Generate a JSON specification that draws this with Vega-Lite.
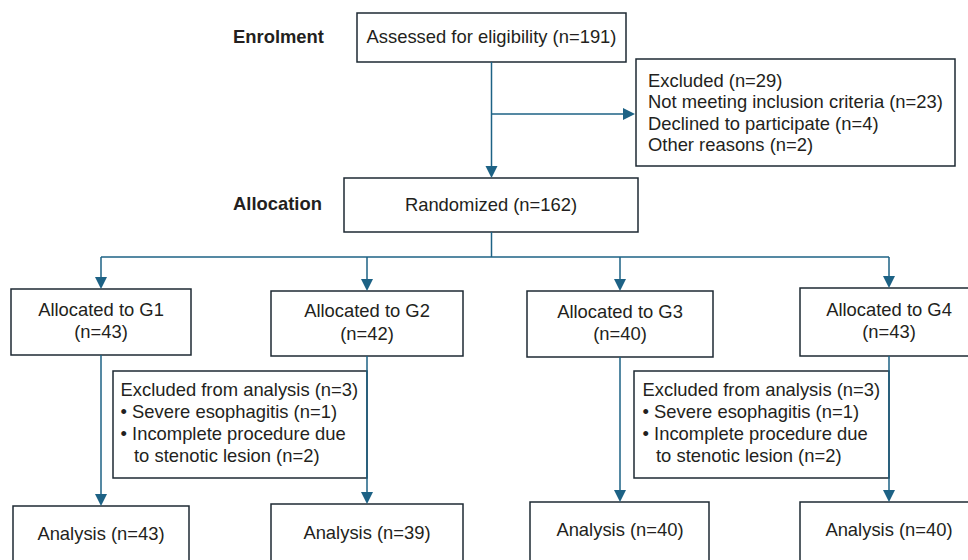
{
  "$schema": "https://vega.github.io/schema/vega-lite/v6.json",
  "width": 968,
  "height": 560,
  "padding": 0,
  "autosize": {"type": "fit", "contains": "padding"},
  "background": "white",
  "config": {"view": {"stroke": null}},
  "datasets": {
    "boxes": [
      {"id": "assessed", "x": 357, "x2": 626, "y": 13, "y2": 62},
      {"id": "excluded", "x": 636, "x2": 955, "y": 59, "y2": 166},
      {"id": "randomized", "x": 344, "x2": 638, "y": 178, "y2": 232},
      {"id": "G1", "x": 11, "x2": 191, "y": 289, "y2": 355},
      {"id": "G2", "x": 271, "x2": 463, "y": 291, "y2": 356},
      {"id": "G3", "x": 527, "x2": 713, "y": 291, "y2": 357},
      {"id": "G4", "x": 800, "x2": 990, "y": 288, "y2": 356},
      {"id": "ex12", "x": 113, "x2": 367, "y": 371, "y2": 478},
      {"id": "ex34", "x": 634, "x2": 889, "y": 371, "y2": 478},
      {"id": "A1", "x": 13, "x2": 189, "y": 506, "y2": 590},
      {"id": "A2", "x": 271, "x2": 463, "y": 504, "y2": 590},
      {"id": "A3", "x": 530, "x2": 709, "y": 502, "y2": 590},
      {"id": "A4", "x": 800, "x2": 990, "y": 502, "y2": 590}
    ],
    "lines": [
      {"x": 491.5, "x2": 491.5, "y": 62, "y2": 170},
      {"x": 491.5, "x2": 627, "y": 114, "y2": 114},
      {"x": 491.5, "x2": 491.5, "y": 232, "y2": 257},
      {"x": 101, "x2": 889, "y": 257, "y2": 257},
      {"x": 101, "x2": 101, "y": 257, "y2": 281},
      {"x": 367, "x2": 367, "y": 257, "y2": 283},
      {"x": 620, "x2": 620, "y": 257, "y2": 283},
      {"x": 889, "x2": 889, "y": 257, "y2": 280},
      {"x": 101, "x2": 101, "y": 355, "y2": 498},
      {"x": 367, "x2": 367, "y": 356, "y2": 496},
      {"x": 620, "x2": 620, "y": 357, "y2": 494},
      {"x": 889, "x2": 889, "y": 356, "y2": 494}
    ],
    "arrowsDown": [
      {"x": 491.5, "y": 178},
      {"x": 101, "y": 289},
      {"x": 367, "y": 291},
      {"x": 620, "y": 291},
      {"x": 889, "y": 288},
      {"x": 101, "y": 506},
      {"x": 367, "y": 504},
      {"x": 620, "y": 502},
      {"x": 889, "y": 502}
    ],
    "arrowsRight": [
      {"x": 635, "y": 114}
    ],
    "headings": [
      {"x": 233, "y": 37, "text": "Enrolment"},
      {"x": 233, "y": 204, "text": "Allocation"}
    ],
    "centered": [
      {"x": 491.5, "y": 37, "text": "Assessed for eligibility (n=191)"},
      {"x": 491, "y": 205, "text": "Randomized (n=162)"},
      {"x": 101, "y": 310, "text": "Allocated to G1"},
      {"x": 101, "y": 332, "text": "(n=43)"},
      {"x": 367, "y": 311, "text": "Allocated to G2"},
      {"x": 367, "y": 333.5, "text": "(n=42)"},
      {"x": 620, "y": 311.5, "text": "Allocated to G3"},
      {"x": 620, "y": 334, "text": "(n=40)"},
      {"x": 889, "y": 310, "text": "Allocated to G4"},
      {"x": 889, "y": 332, "text": "(n=43)"},
      {"x": 101, "y": 534, "text": "Analysis (n=43)"},
      {"x": 367, "y": 533, "text": "Analysis (n=39)"},
      {"x": 620, "y": 530, "text": "Analysis (n=40)"},
      {"x": 889, "y": 530, "text": "Analysis (n=40)"}
    ],
    "leftText": [
      {"x": 648, "y": 81, "text": "Excluded (n=29)"},
      {"x": 648, "y": 102, "text": "Not meeting inclusion criteria (n=23)"},
      {"x": 648, "y": 123.5, "text": "Declined to participate (n=4)"},
      {"x": 648, "y": 145, "text": "Other reasons (n=2)"},
      {"x": 120.5, "y": 390, "text": "Excluded from analysis (n=3)"},
      {"x": 120.5, "y": 412, "text": "• Severe esophagitis (n=1)"},
      {"x": 120.5, "y": 434, "text": "• Incomplete procedure due"},
      {"x": 134, "y": 456, "text": "to stenotic lesion (n=2)"},
      {"x": 642.5, "y": 390, "text": "Excluded from analysis (n=3)"},
      {"x": 642.5, "y": 412, "text": "• Severe esophagitis (n=1)"},
      {"x": 642.5, "y": 434, "text": "• Incomplete procedure due"},
      {"x": 656, "y": 456, "text": "to stenotic lesion (n=2)"}
    ]
  },
  "layer": [
    {
      "data": {"name": "boxes"},
      "mark": {"type": "rect", "fill": "white", "stroke": "#1e2a33", "strokeWidth": 1.5, "clip": true},
      "encoding": {
        "x": {"field": "x", "type": "quantitative", "scale": {"domain": [0, 968], "nice": false, "zero": false}, "axis": null},
        "x2": {"field": "x2"},
        "y": {"field": "y", "type": "quantitative", "scale": {"domain": [0, 560], "nice": false, "zero": false, "reverse": true}, "axis": null},
        "y2": {"field": "y2"}
      }
    },
    {
      "data": {"name": "lines"},
      "mark": {"type": "rule", "stroke": "#1d6285", "strokeWidth": 1.5},
      "encoding": {
        "x": {"field": "x", "type": "quantitative"},
        "x2": {"field": "x2"},
        "y": {"field": "y", "type": "quantitative"},
        "y2": {"field": "y2"}
      }
    },
    {
      "data": {"name": "arrowsDown"},
      "mark": {"type": "point", "shape": "M-0.5,-1L0.5,-1L0,0Z", "filled": true, "color": "#1d6285", "size": 576, "opacity": 1},
      "encoding": {
        "x": {"field": "x", "type": "quantitative"},
        "y": {"field": "y", "type": "quantitative"}
      }
    },
    {
      "data": {"name": "arrowsRight"},
      "mark": {"type": "point", "shape": "M-1,-0.5L0,0L-1,0.5Z", "filled": true, "color": "#1d6285", "size": 576, "opacity": 1},
      "encoding": {
        "x": {"field": "x", "type": "quantitative"},
        "y": {"field": "y", "type": "quantitative"}
      }
    },
    {
      "data": {"name": "headings"},
      "mark": {"type": "text", "align": "left", "baseline": "middle", "font": "Liberation Sans", "fontSize": 18.4, "fontWeight": "bold", "color": "#231f20"},
      "encoding": {
        "x": {"field": "x", "type": "quantitative"},
        "y": {"field": "y", "type": "quantitative"},
        "text": {"field": "text"}
      }
    },
    {
      "data": {"name": "centered"},
      "mark": {"type": "text", "align": "center", "baseline": "middle", "font": "Liberation Sans", "fontSize": 18.4, "color": "#231f20"},
      "encoding": {
        "x": {"field": "x", "type": "quantitative"},
        "y": {"field": "y", "type": "quantitative"},
        "text": {"field": "text"}
      }
    },
    {
      "data": {"name": "leftText"},
      "mark": {"type": "text", "align": "left", "baseline": "middle", "font": "Liberation Sans", "fontSize": 18.4, "color": "#231f20"},
      "encoding": {
        "x": {"field": "x", "type": "quantitative"},
        "y": {"field": "y", "type": "quantitative"},
        "text": {"field": "text"}
      }
    }
  ]
}
